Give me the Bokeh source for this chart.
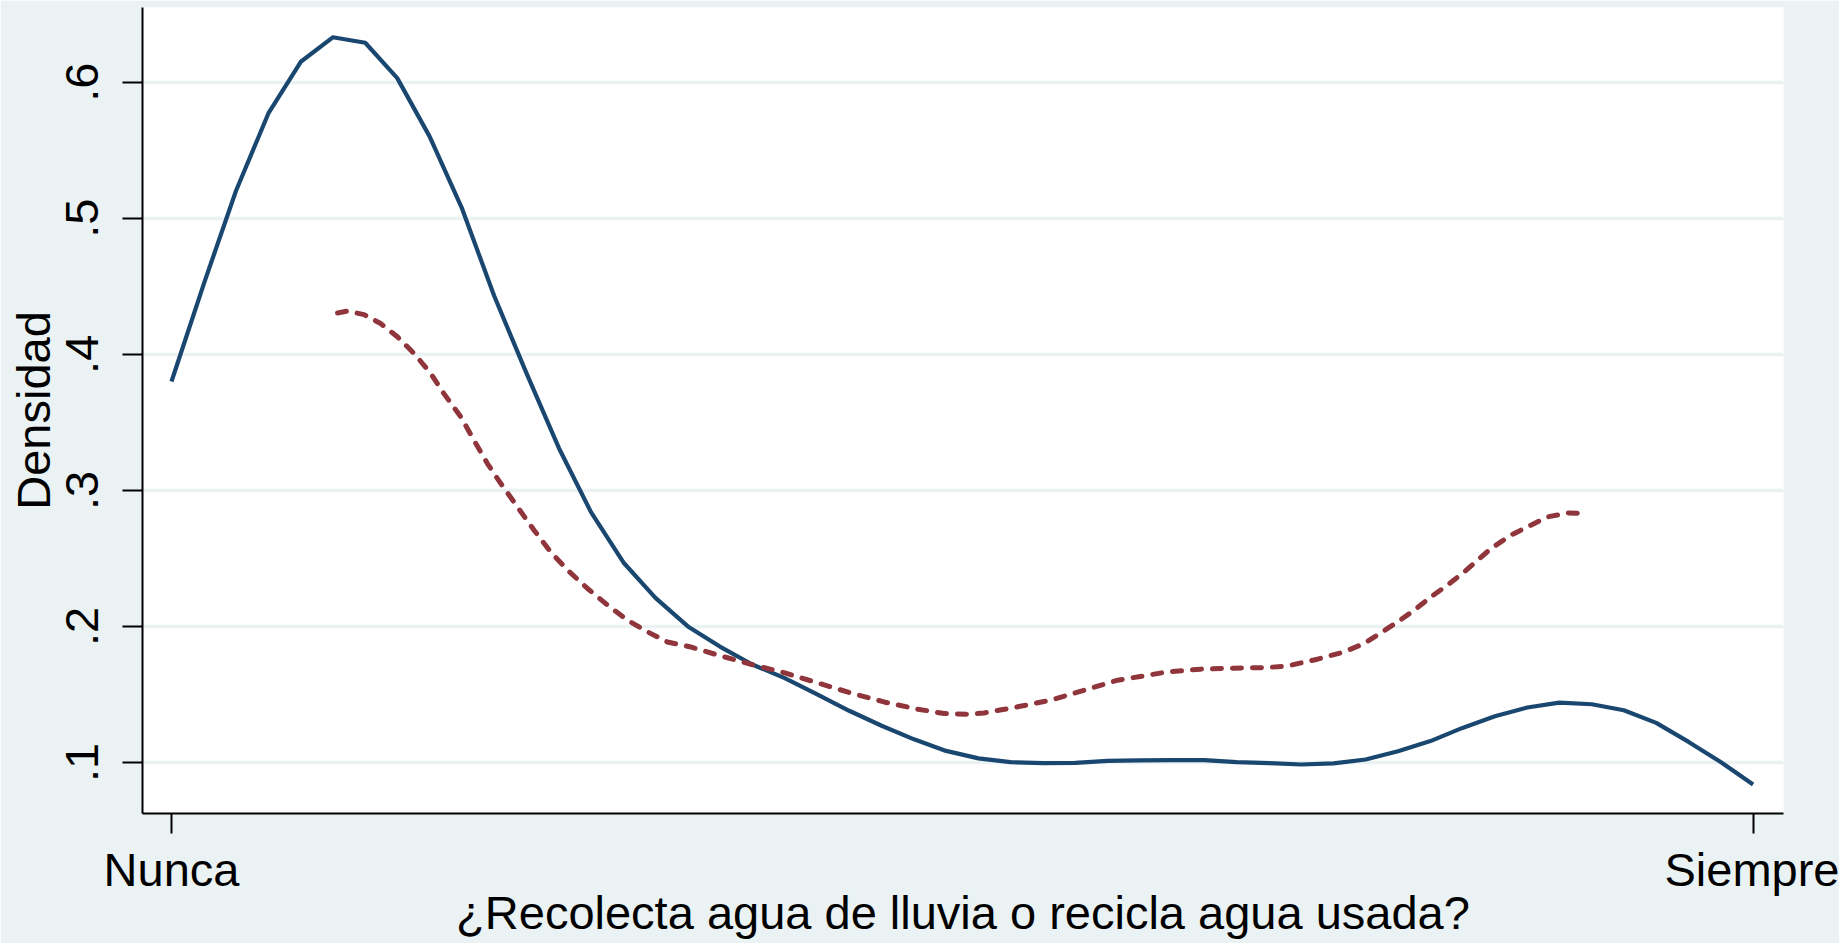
from bokeh.plotting import figure
from bokeh.models import Range1d, FixedTicker
from bokeh.embed import file_html
from bokeh.resources import INLINE

# Category ends of the x axis
x_tick_values = [1, 5]
x_tick_labels = ["Nunca", "Siempre"]
y_tick_values = [0.1, 0.2, 0.3, 0.4, 0.5, 0.6]
y_tick_labels = [".1", ".2", ".3", ".4", ".5", ".6"]
x_title = "¿Recolecta agua de lluvia o recicla agua usada?"
y_title = "Densidad"

# Solid (blue) density curve
blue_x = [1.000, 1.082, 1.163, 1.245, 1.327, 1.408, 1.490, 1.571, 1.653, 1.735,
          1.816, 1.898, 1.980, 2.061, 2.143, 2.224, 2.306, 2.388, 2.469, 2.551,
          2.633, 2.714, 2.796, 2.878, 2.959, 3.041, 3.122, 3.204, 3.286, 3.367,
          3.449, 3.531, 3.612, 3.694, 3.776, 3.857, 3.939, 4.020, 4.102, 4.184,
          4.265, 4.347, 4.429, 4.510, 4.592, 4.673, 4.755, 4.837, 4.918, 5.000]
blue_y = [0.380, 0.452, 0.520, 0.577, 0.615, 0.633, 0.629, 0.603, 0.560, 0.507,
          0.443, 0.386, 0.331, 0.284, 0.247, 0.221, 0.200, 0.185, 0.172, 0.162,
          0.150, 0.138, 0.127, 0.117, 0.1085, 0.103, 0.1002, 0.0995, 0.0997, 0.1012,
          0.1016, 0.1017, 0.1017, 0.1002, 0.0995, 0.0985, 0.0993, 0.1022, 0.1083, 0.1157,
          0.1254, 0.1340, 0.1404, 0.1440, 0.1428, 0.1384, 0.1291, 0.1151, 0.1004, 0.0838]

# Dashed (red) density curve
red_x = [1.420, 1.445, 1.487, 1.529, 1.572, 1.614, 1.656, 1.689, 1.732, 1.765,
         1.799, 1.833, 1.875, 1.917, 1.959, 2.002, 2.052, 2.103, 2.153, 2.204,
         2.254, 2.313, 2.381, 2.465, 2.549, 2.634, 2.718, 2.802, 2.887, 2.954,
         3.013, 3.055, 3.140, 3.224, 3.308, 3.393, 3.468, 3.519, 3.603, 3.688,
         3.772, 3.823, 3.898, 3.966, 4.016, 4.058, 4.101, 4.143, 4.185, 4.227,
         4.269, 4.303, 4.337, 4.387, 4.438, 4.480, 4.531, 4.577]
red_y = [0.4304, 0.4318, 0.4292, 0.4226, 0.4127, 0.4005, 0.3858, 0.3711, 0.3539, 0.3368,
         0.3197, 0.3050, 0.2878, 0.2707, 0.2547, 0.2413, 0.2279, 0.2156, 0.2046, 0.1960,
         0.1886, 0.1849, 0.1790, 0.1722, 0.1660, 0.1585, 0.1511, 0.1445, 0.1392, 0.1360,
         0.1355, 0.1364, 0.1409, 0.1458, 0.1531, 0.1605, 0.1641, 0.1666, 0.1686, 0.1693,
         0.1698, 0.1710, 0.1759, 0.1813, 0.1874, 0.1952, 0.2033, 0.2119, 0.2217, 0.2303,
         0.2400, 0.2486, 0.2572, 0.2670, 0.2744, 0.2805, 0.2834, 0.2830]

BG = "#eaf2f3"
FONT = "Liberation Sans"
FS = "47px"

p = figure(width=1839, height=943, output_backend="svg", toolbar_location=None,
           x_range=Range1d(0.9267, 5.0769), y_range=Range1d(0.0625, 0.6549),
           min_border_left=142, min_border_right=56, min_border_top=7,
           min_border_bottom=130)
p.border_fill_color = BG
p.background_fill_color = "white"
p.outline_line_color = None

p.line(blue_x, blue_y, line_color="#1a476f", line_width=4.2, line_join="round")
p.line(red_x, red_y, line_color="#90353b", line_width=5, line_dash="9 11",
       line_cap="round", line_join="round")

# x axis
xa = p.xaxis[0]
xa.ticker = FixedTicker(ticks=x_tick_values)
xa.major_label_overrides = {v: t for v, t in zip(x_tick_values, x_tick_labels)}
xa.minor_tick_line_color = None
xa.major_tick_in = 0
xa.major_tick_out = 20
xa.major_tick_line_width = 2
xa.axis_line_width = 2
xa.axis_line_color = "black"
xa.major_tick_line_color = "black"
xa.major_label_text_font = FONT
xa.major_label_text_font_size = FS
xa.major_label_text_color = "black"
xa.major_label_standoff = 9
xa.axis_label = x_title
xa.axis_label_text_font = FONT
xa.axis_label_text_font_size = FS
xa.axis_label_text_font_style = "normal"
xa.axis_label_text_color = "black"
xa.axis_label_standoff = -13

# y axis
ya = p.yaxis[0]
ya.ticker = FixedTicker(ticks=y_tick_values)
ya.major_label_overrides = {v: t for v, t in zip(y_tick_values, y_tick_labels)}
ya.minor_tick_line_color = None
ya.major_tick_in = 0
ya.major_tick_out = 20
ya.major_tick_line_width = 2
ya.axis_line_width = 2
ya.axis_line_color = "black"
ya.major_tick_line_color = "black"
ya.major_label_text_font = FONT
ya.major_label_text_font_size = FS
ya.major_label_text_color = "black"
ya.major_label_orientation = "vertical"
ya.major_label_standoff = 24
ya.axis_label = y_title
ya.axis_label_text_font = FONT
ya.axis_label_text_font_size = FS
ya.axis_label_text_font_style = "normal"
ya.axis_label_text_color = "black"
ya.axis_label_standoff = 4

p.xgrid.grid_line_color = None
p.ygrid.grid_line_color = BG
p.ygrid.grid_line_width = 3.5

open("out.html", "w").write(file_html(p, INLINE))
